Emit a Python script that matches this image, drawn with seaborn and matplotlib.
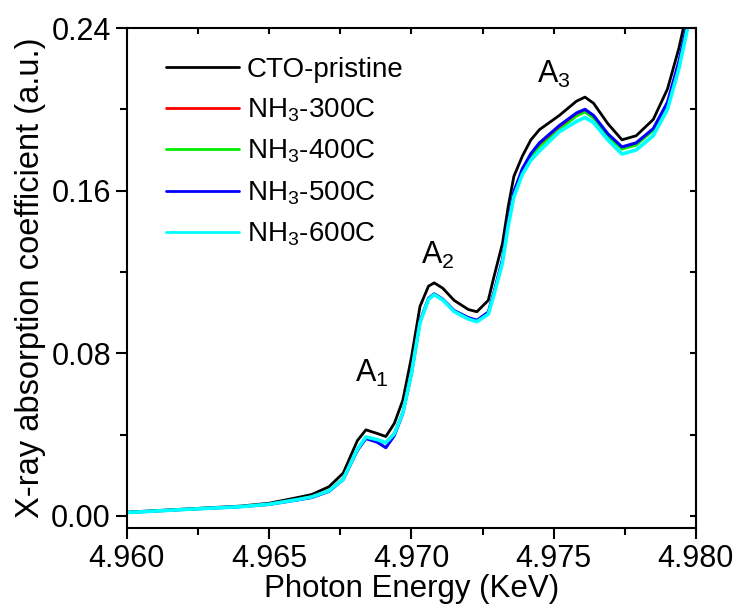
import numpy as np
import pandas as pd
import seaborn as sns
import matplotlib
matplotlib.use("Agg")
import matplotlib.pyplot as plt
from matplotlib.ticker import MultipleLocator, FormatStrFormatter

# photon energy grid (keV), shared by all samples
energy = [4.9600, 4.9620, 4.9640, 4.9650, 4.9660, 4.9665, 4.9671, 4.9676, 4.9681,
          4.9684, 4.9688, 4.9691, 4.9694, 4.9697, 4.9700, 4.9703, 4.9706, 4.9708,
          4.9711, 4.9715, 4.9720, 4.9723, 4.9727, 4.9729, 4.9732, 4.9734, 4.9736,
          4.9739, 4.9742, 4.9745, 4.9752, 4.9758, 4.9761, 4.9764, 4.9769, 4.9774,
          4.9779, 4.9785, 4.9790, 4.9794, 4.9798]

pristine = [0.0018, 0.0033, 0.0048, 0.0062, 0.0090, 0.0105, 0.0143, 0.0210, 0.0370,
            0.0423, 0.0405, 0.0390, 0.0455, 0.0570, 0.0780, 0.1030, 0.1130, 0.1146,
            0.1120, 0.1060, 0.1015, 0.1004, 0.1060, 0.1176, 0.1340, 0.1520, 0.1670,
            0.1770, 0.1850, 0.1900, 0.1970, 0.2040, 0.2060, 0.2030, 0.1930, 0.1850,
            0.1870, 0.1950, 0.2100, 0.2300, 0.2550]

nh3_300 = [0.0016, 0.0030, 0.0045, 0.0058, 0.0082, 0.0095, 0.0125, 0.0185, 0.0330,
           0.0385, 0.0375, 0.0360, 0.0410, 0.0515, 0.0710, 0.0960, 0.1070, 0.1090,
           0.1065, 0.1010, 0.0975, 0.0962, 0.1000, 0.1100, 0.1260, 0.1440, 0.1590,
           0.1700, 0.1770, 0.1820, 0.1905, 0.1970, 0.1988, 0.1960, 0.1870, 0.1810,
           0.1830, 0.1900, 0.2030, 0.2230, 0.2480]

nh3_400 = [0.0015, 0.0030, 0.0044, 0.0057, 0.0080, 0.0094, 0.0124, 0.0183, 0.0328,
           0.0383, 0.0372, 0.0357, 0.0406, 0.0510, 0.0705, 0.0955, 0.1068, 0.1088,
           0.1062, 0.1005, 0.0970, 0.0960, 0.0998, 0.1095, 0.1255, 0.1435, 0.1585,
           0.1695, 0.1765, 0.1815, 0.1900, 0.1965, 0.1985, 0.1955, 0.1865, 0.1803,
           0.1822, 0.1895, 0.2025, 0.2225, 0.2475]

nh3_500 = [0.0016, 0.0031, 0.0045, 0.0056, 0.0078, 0.0090, 0.0120, 0.0178, 0.0322,
           0.0380, 0.0362, 0.0335, 0.0395, 0.0505, 0.0700, 0.0955, 0.1070, 0.1092,
           0.1066, 0.1010, 0.0975, 0.0962, 0.1002, 0.1100, 0.1262, 0.1445, 0.1595,
           0.1708, 0.1782, 0.1835, 0.1920, 0.1982, 0.2000, 0.1970, 0.1880, 0.1815,
           0.1835, 0.1905, 0.2035, 0.2235, 0.2485]

nh3_600 = [0.0016, 0.0031, 0.0045, 0.0057, 0.0080, 0.0093, 0.0123, 0.0180, 0.0328,
           0.0388, 0.0375, 0.0360, 0.0404, 0.0508, 0.0700, 0.0950, 0.1065, 0.1088,
           0.1062, 0.1005, 0.0968, 0.0955, 0.0992, 0.1088, 0.1245, 0.1425, 0.1570,
           0.1680, 0.1750, 0.1795, 0.1890, 0.1940, 0.1960, 0.1935, 0.1850, 0.1780,
           0.1800, 0.1870, 0.2000, 0.2200, 0.2460]

labels = ["CTO-pristine", "NH$_\\mathregular{3}$-300C", "NH$_\\mathregular{3}$-400C",
          "NH$_\\mathregular{3}$-500C", "NH$_\\mathregular{3}$-600C"]
series = [pristine, nh3_300, nh3_400, nh3_500, nh3_600]
colors = ["#000000", "#ff0000", "#00ee00", "#0000ff", "#00ffff"]
widths = [2.0, 1.6, 1.6, 2.2, 2.6]

sns.set_style("ticks")
plt.rcParams["font.family"] = ["Liberation Sans", "DejaVu Sans"]
plt.rcParams["mathtext.fontset"] = "custom"
plt.rcParams["mathtext.rm"] = "Liberation Sans"
plt.rcParams["mathtext.it"] = "Liberation Sans:italic"
plt.rcParams["mathtext.bf"] = "Liberation Sans:bold"
for key in ["text.color", "axes.labelcolor", "xtick.color", "ytick.color", "axes.edgecolor"]:
    plt.rcParams[key] = "black"

fig = plt.figure(figsize=(7.38, 6.09), dpi=100)
ax = fig.add_axes([0.172, 0.133, 0.771, 0.821])

for lab, vals, col, lw in zip(labels, series, colors, widths):
    df = pd.DataFrame({"energy": energy, "mu": vals})
    sns.lineplot(data=df, x="energy", y="mu", color=col, linewidth=lw,
                 label=lab, ax=ax, sort=False)

# peak labels
ax.text(4.96801, 0.0659, "A$_\\mathregular{1}$", fontsize=22, ha="left", va="baseline")
ax.text(4.97033, 0.1240, "A$_\\mathregular{2}$", fontsize=22, ha="left", va="baseline")
ax.text(4.97441, 0.2130, "A$_\\mathregular{3}$", fontsize=22, ha="left", va="baseline")

ax.set_xlim(4.960, 4.980)
ax.set_ylim(-0.006, 0.24)
ax.xaxis.set_major_locator(MultipleLocator(0.005))
ax.xaxis.set_minor_locator(MultipleLocator(0.0025))
ax.yaxis.set_major_locator(MultipleLocator(0.08))
ax.yaxis.set_minor_locator(MultipleLocator(0.04))
ax.xaxis.set_major_formatter(FormatStrFormatter("%.3f"))
ax.yaxis.set_major_formatter(FormatStrFormatter("%.2f"))

ax.tick_params(which="major", direction="out", length=8, width=1.5, labelsize=22)
ax.tick_params(which="minor", direction="out", length=5, width=1.5)
ax.tick_params(axis="both", which="both", top=False, right=False)

for side in ["top", "right", "bottom", "left"]:
    ax.spines[side].set_visible(True)
    ax.spines[side].set_linewidth(1.5)
    ax.spines[side].set_color("black")

# small inward ticks on the mirrored axes
sec_x = ax.secondary_xaxis("top")
sec_x.xaxis.set_major_locator(MultipleLocator(0.0025))
sec_x.tick_params(direction="in", length=4, width=1.5, labeltop=False)
sec_x.spines["top"].set_visible(False)
sec_y = ax.secondary_yaxis("right")
sec_y.yaxis.set_major_locator(MultipleLocator(0.04))
sec_y.tick_params(direction="in", length=4, width=1.5, labelright=False)
sec_y.spines["right"].set_visible(False)

ax.set_xlabel("Photon Energy (KeV)", fontsize=22.5, labelpad=0)
ax.set_ylabel("X-ray absorption coefficient (a.u.)", fontsize=23.5, labelpad=4)

leg = ax.legend(loc="upper left", bbox_to_anchor=(0.05, 0.965), frameon=False,
                fontsize=20, handlelength=2.6, handletextpad=0.3,
                labelspacing=0.5, borderaxespad=0)
for line in leg.get_lines():
    line.set_linewidth(2.0)

fig.savefig("out.png", dpi=100)
